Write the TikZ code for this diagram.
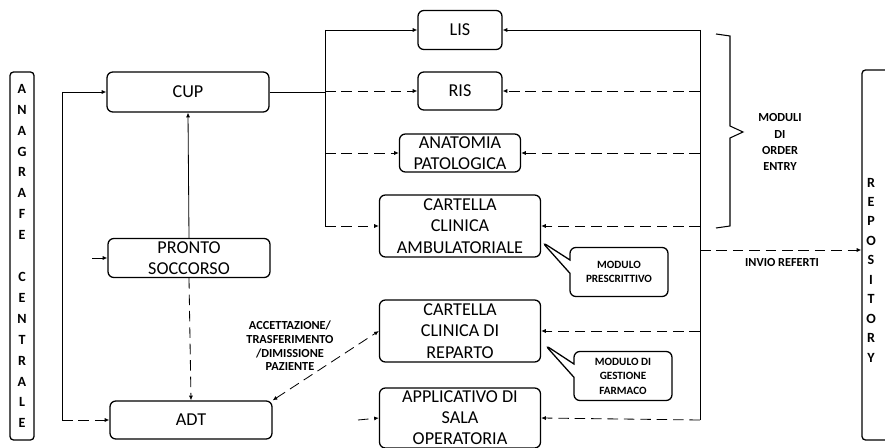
\documentclass[tikz,border=0pt]{standalone}
\usepackage{fontspec}
\setmainfont{Carlito}
\setsansfont{Carlito}
\usetikzlibrary{arrows.meta, positioning, shapes.callouts, calc}
\tikzstyle{box}    = [rectangle, rounded corners=5pt, draw=black, line width=1.1pt,
                      align=center, inner sep=1pt,
                      font=\fontsize{15.5}{18.4}\selectfont]
\tikzstyle{vbox}   = [rectangle, rounded corners=3pt, draw=black, line width=1.1pt,
                      align=center, inner sep=1pt,
                      font=\fontsize{12}{17.85}\selectfont\bfseries]
\tikzstyle{note}   = [rectangle callout, rounded corners=5pt, draw=black,
                      line width=1.1pt, align=center, minimum width=29.4mm,
                      minimum height=14.7mm, callout pointer width=4mm,
                      font=\fontsize{9.5}{12.4}\selectfont\bfseries]
\tikzstyle{lbl}    = [align=center, inner sep=0pt,
                      font=\fontsize{10.5}{11.6}\selectfont\bfseries]
\tikzstyle{arr}    = [-{Latex[length=4pt, width=3.5pt]}, line width=0.7pt]
\tikzstyle{darr}   = [arr, dash pattern=on 9pt off 5pt]
\tikzstyle{bus}    = [line width=0.7pt]

\begin{document}
\begin{tikzpicture}[x=0.3mm, y=-0.3mm]
  \useasboundingbox (0,0) rectangle (885,448);

  % side columns
  \node[vbox, minimum width=7.2mm, minimum height=110.4mm] (anag) at (22,256)
      {A\\N\\A\\G\\R\\A\\F\\E\\\mbox{}\\C\\E\\N\\T\\R\\A\\L\\E};
  \node[vbox, minimum width=9.6mm, minimum height=111mm] (repo) at (878,255) {};
  \node[vbox, draw=none, font=\fontsize{12}{16.6}\selectfont\bfseries]
      (repotxt) at (871,270) {R\\E\\P\\O\\S\\I\\T\\O\\R\\Y};

  % left column
  \node[box, minimum width=48.6mm, minimum height=12mm] (cup) at (188,92) {CUP};
  \node[box, minimum width=48.6mm, minimum height=11.7mm] (ps) at (189,258)
      {PRONTO\\SOCCORSO};
  \node[box, minimum width=48.6mm, minimum height=11.4mm] (adt) at (191,420) {ADT};

  % middle column
  \node[box, minimum width=25.2mm, minimum height=11.7mm] (lis) at (460,30) {LIS};
  \node[box, minimum width=25.2mm, minimum height=11.4mm] (ris) at (460,91) {RIS};
  \node[box, minimum width=36.3mm, minimum height=11.4mm] (anat) at (460,153)
      {ANATOMIA\\PATOLOGICA};
  \node[box, minimum width=48.3mm, minimum height=18.6mm] (amb) at (460,226)
      {CARTELLA\\CLINICA\\AMBULATORIALE};
  \node[box, minimum width=48.3mm, minimum height=18.6mm] (rep) at (460,331)
      {CARTELLA\\CLINICA DI\\REPARTO};
  \node[box, minimum width=48.3mm, minimum height=18mm,
        font=\fontsize{15.5}{17.8}\selectfont] (sala) at (460,418)
      {APPLICATIVO DI\\SALA\\OPERATORIA};

  % callouts
  \coordinate (ptamb) at (542,242);
  \coordinate (ptrep) at (545,345);
  \node[note, callout absolute pointer=(ptamb)] (pres) at (619,272)
      {MODULO\\PRESCRITTIVO};
  \node[note, callout absolute pointer=(ptrep)] (farm) at (623,376)
      {MODULO DI\\GESTIONE\\FARMACO};

  % bus points
  \coordinate (atop) at (62,92);
  \coordinate (abot) at (62,420);
  \coordinate (ctop) at (325,30);
  \coordinate (cbot) at (325,226);
  \coordinate (rtop) at (700,30);
  \coordinate (rbot) at (700,420);
  \coordinate (psin) at (92,258);
  \coordinate (salain) at (358,420);

  % anagrafe links
  \draw[bus] (atop) -- (abot);
  \draw[arr] (atop) -- (cup.west);
  \draw[darr] (psin) -- (ps.west);
  \draw[darr] (abot) -- (adt.west);

  \draw[arr] (ps.north) -- (cup.south);
  \draw[darr] (ps.south) -- (adt.north);
  \draw[darr, {Latex[length=4pt, width=3.5pt]}-{Latex[length=4pt, width=3.5pt]}]
      (adt.north east) -- (rep.west);
  \node[lbl] (adtlbl) at (290,346)
      {ACCETTAZIONE/\\TRASFERIMENTO\\/DIMISSIONE\\PAZIENTE};

  % order entry
  \draw[bus] (cup.east) -- (cup.east -| ctop);
  \draw[bus] (ctop) -- (cbot);
  \draw[arr] (ctop) -- (lis.west);
  \draw[darr] (ris.west -| ctop) -- (ris.west);
  \draw[darr] (anat.west -| ctop) -- (anat.west);
  \draw[darr] (cbot) -- (amb.west);
  \draw[darr] (salain) -- (sala.west);

  % referti
  \draw[bus] (rtop) -- (rbot);
  \draw[arr] (rtop) -- (lis.east);
  \draw[darr] (ris.east -| rtop) -- (ris.east);
  \draw[darr] (anat.east -| rtop) -- (anat.east);
  \draw[darr] (amb.east -| rtop) -- (amb.east);
  \draw[darr] (rep.east -| rtop) -- (rep.east);
  \draw[darr] (rbot) -- (sala.east);
  \draw[darr] (repo.west |- 0,250) coordinate (rin) (rin -| rtop) -- (rin);

  \draw[line width=0.9pt] (716,34) -- (730,36) -- (730,126) -- (743,132)
      -- (730,138) -- (730,226) -- (716,228);
  \node[lbl, font=\fontsize{10.5}{13.7}\selectfont\bfseries] (oelbl) at (780,142)
      {MODULI\\DI\\ORDER\\ENTRY};
  \node[lbl, font=\fontsize{10.5}{12}\selectfont\bfseries] (invio) at (782,263)
      {INVIO REFERTI};

\end{tikzpicture}
\end{document}
